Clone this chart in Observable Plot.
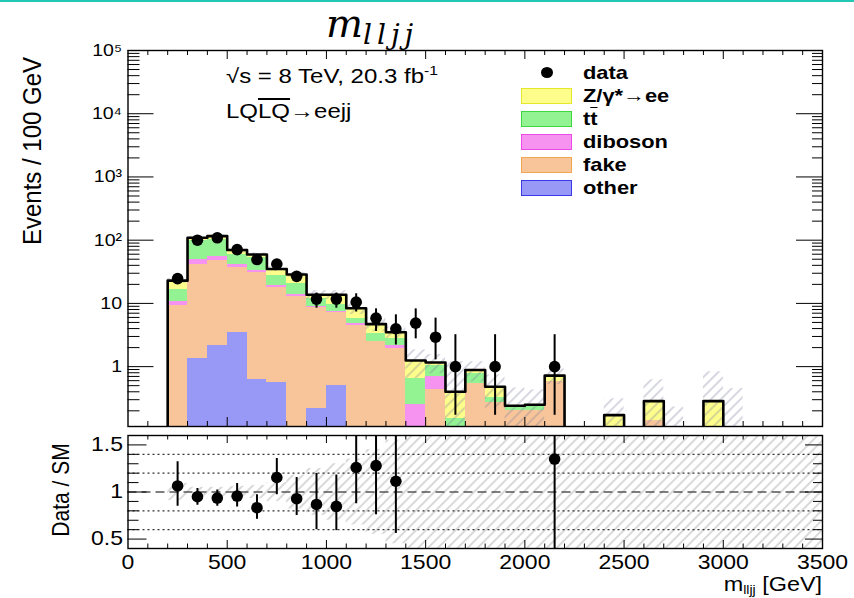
<!DOCTYPE html>
<html><head><meta charset="utf-8">
<script src="https://cdn.jsdelivr.net/npm/d3@7"></script>
<script src="https://cdn.jsdelivr.net/npm/@observablehq/plot@0.6"></script>
<style>
html,body{margin:0;padding:0;background:#fff;}
#wrap{position:relative;width:854px;height:598px;overflow:hidden;background:#fff;font-family:"Liberation Sans",Arial,Helvetica,sans-serif;color:#000;}
.abs{position:absolute;white-space:nowrap;line-height:1;}
#wrap svg{position:absolute;left:0;}
</style></head>
<body><div id="wrap"></div>
<script>
// ---------------- data ----------------
const binLow = [200,300,400,500,600,700,800,900,1000,1100,1200,1300,1400,1500,1600,1700,1800,1900,2000,2100,2200,2300,2400,2500,2600,2700,2800,2900,3000,3100,3200,3300,3400];
const binWidth = 100;
// stacked MC components (events / 100 GeV)
const other   = [0,1.35,2.15,3.5,0.63,0.56,0,0.22,0.51,0,0,0,0,0,0,0,0,0,0,0,0,0,0,0,0,0,0,0,0,0,0,0,0];
const fake    = [9.2,40.6,46,33.5,29.7,17.2,12.9,8.4,6.8,4.5,2.5,1.91,0,0.44,0,0.54,0.27,0.2,0.2,0.58,0,0,0,0,0.14,0,0,0,0,0,0,0,0];
const diboson = [1.5,7.4,7.5,4,2.7,1.3,1.1,0.36,0.2,0.37,0,0.24,0.25,0.25,0,0,0,0,0,0,0,0,0,0,0,0,0,0,0,0,0,0,0];
const ttbar   = [5.8,49.6,46.3,19,20.7,8.4,7,3.1,2.2,0.98,0.88,0.65,0.4,0.37,0.151,0.24,0.06,0.04,0.05,0,0,0,0,0,0,0,0,0,0,0,0,0,0];
const zee     = [6.4,10,14,10,5.6,7.5,7.6,1.6,4.0,2.55,1.32,0.7,0.6,0.1,0.25,0.105,0.15,0,0,0.14,0,0,0.171,0,0.145,0,0,0.285,0,0,0,0,0];
// MC uncertainty band (main panel, absolute edges)
const mcUp    = [25,115,122,74,63,38,31,15.9,15.9,10.1,5.85,4.2,1.84,1.55,1.2,1.2,0.74,0.46,0.43,0.92,0,0,0.31,0,0.62,0.23,0,0.83,0.45,0,0,0,0];
const mcDown  = [20.8,103,110,63,55.6,32,26.2,11.5,11.5,6.7,3.55,2.8,0.65,0.77,0.05,0.57,0.22,0.02,0.07,0.52,0,0,0.03,0,0.01,0.01,0,0.01,0.01,0,0,0,0];
// relative MC uncertainty (ratio panel)
const ratioBand = [0.09,0.05,0.05,0.06,0.07,0.1,0.18,0.25,0.3,0.35,0.45,0.55,0.62,1,1,1,1,1,1,1,1,1,1,1,1,1,1,1,1,1,1,1,1];
// data
const dataMass   = [250,350,450,550,650,750,850,950,1050,1150,1250,1350,1450,1550,1650,1850,2150];
const dataEvents = [24.7,100,109,71,49.4,42,26.8,11.7,11.7,10.5,5.85,3.97,4.87,2.92,1,1,1];
const dataLow    = [20.2,90,99,63,42.5,35.5,21.6,8.4,8.4,7.3,3.6,2.2,2.75,1.28,0.17,0.17,0.17];
const dataHigh   = [29.8,110,119,79,56.5,48.5,32,14.6,14.6,14.2,8.2,6.6,8.2,5.85,3.2,3.2,3.2];
// data / SM
const ratioMass  = [250,350,450,550,650,750,850,950,1050,1150,1250,1350,2150];
const ratioValue = [1.064,0.95,0.936,0.957,0.833,1.154,0.929,0.868,0.847,1.26,1.28,1.114,1.35];
const ratioLow   = [0.85,0.858,0.85,0.84,0.71,0.97,0.75,0.6,0.59,0.876,0.758,0.56,0.2];
const ratioHigh  = [1.32,1.036,1.02,1.09,0.97,1.357,1.154,1.197,1.18,1.9,1.9,1.9,2.5];
// axis ticks and labels
const xTicks = [0,500,1000,1500,2000,2500,3000,3500];
const yMainTicks = [1,10,100,1000,10000,100000];
const yMainLabels = ["1","10","10\u00B2","10\u00B3","10\u2074","10\u2075"];
const yRatioTicks = [0.5,1,1.5];
const yRatioLabels = ["0.5","1","1.5"];
const seriesNames = ["other","fake","diboson","tt\u0304","Z/\u03B3*\u2192ee"];
const seriesColors = ["#9898f6","#f8c59a","#f693f0","#93f393","#fdfd8c"];
const seriesBorders = ["#3a3ae8","#f2a552","#ec4ae6","#3fd63f","#e6e62a"];

// ---------------- layout ----------------
const W = 854, ML = 127.5, MR = 32;
const frameW = W - ML - MR;
const YMIN = 0.113, YMAX = 1e5;
const mainH = 430, mainMT = 50, mainMB = 4, mainFH = mainH - mainMT - mainMB;
const ratH = 168, ratMT = 5, ratMB = 50, ratFH = ratH - ratMT - ratMB;
const FONT = "'Liberation Sans', Arial, Helvetica, sans-serif";

// ---------------- derived tables ----------------
const comps = [other, fake, diboson, ttbar, zee];
const total = binLow.map((_, i) => comps.reduce((s, c) => s + c[i], 0));
const stackRows = [];
binLow.forEach((lo, i) => {
  let cum = 0;
  comps.forEach((c, k) => {
    cum += c[i];
    if (c[i] > 0) stackRows.push({lo, hi: lo + binWidth, top: cum, layer: k, color: seriesColors[k]});
  });
});
stackRows.sort((a, b) => b.layer - a.layer);
const bandRows = binLow.map((lo, i) => ({lo, hi: lo + binWidth, up: mcUp[i], down: Math.max(mcDown[i], 0.01)})).filter(d => d.up > 0);
const LOW = 0.02;
const outline = [{x: binLow[0], y: LOW}];
binLow.forEach((lo, i) => outline.push({x: lo, y: total[i] > 0 ? total[i] : LOW}));
outline.push({x: binLow[binLow.length - 1] + binWidth, y: LOW});
const dataRows = dataMass.map((m, i) => ({m, n: dataEvents[i], lo: dataLow[i], hi: dataHigh[i]}));
const ratioRows = ratioMass.map((m, i) => ({m, r: ratioValue[i], lo: ratioLow[i], hi: ratioHigh[i]}));
const ratioBandRows = binLow.map((lo, i) => ({lo, hi: lo + binWidth, y1: 1 - ratioBand[i], y2: 1 + ratioBand[i]}));

const xMinor = d3.range(100, 3500, 100).filter(d => d % 500 !== 0);
const xMajorIn = [500,1000,1500,2000,2500,3000];
const yMinorMain = [];
for (let e = -1; e <= 4; e++) for (let m = 2; m <= 9; m++) { const v = m * Math.pow(10, e); if (v > YMIN && v < YMAX) yMinorMain.push(v); }
const yMinorRatio = [0.6,0.7,0.8,0.9,1.1,1.2,1.3,1.4];

function ticksY(values, lenL, lenR) {
  return [
    Plot.tickY(values, {y: d => d, insetRight: frameW - lenL, stroke: "black", strokeWidth: 1}),
    Plot.tickY(values, {y: d => d, insetLeft: frameW - lenR, stroke: "black", strokeWidth: 1})
  ];
}
function ticksX(values, len, fh) {
  return [
    Plot.tickX(values, {x: d => d, insetBottom: fh - len, stroke: "black", strokeWidth: 1}),
    Plot.tickX(values, {x: d => d, insetTop: fh - len, stroke: "black", strokeWidth: 1})
  ];
}
function addHatch(svg, id, color, op) {
  const defs = d3.select(svg).insert("defs", ":first-child");
  const p = defs.append("pattern").attr("id", id).attr("patternUnits", "userSpaceOnUse")
    .attr("width", 7).attr("height", 7).attr("patternTransform", "rotate(45)");
  p.append("line").attr("x1", 1).attr("y1", 0).attr("x2", 1).attr("y2", 7)
    .attr("stroke", color).attr("stroke-width", 1.1).attr("stroke-opacity", op);
}
function stretch(svg, s) {
  svg.querySelectorAll("text").forEach(t => {
    const tr = t.getAttribute("transform");
    if (tr) t.setAttribute("transform", tr + ` scale(${s},1)`);
  });
}

// ---------------- main panel ----------------
const main = Plot.plot({
  width: W, height: mainH,
  marginLeft: ML, marginRight: MR, marginTop: mainMT, marginBottom: mainMB,
  x: {domain: [0, 3500], axis: null},
  y: {type: "log", domain: [YMIN, YMAX]},
  color: {type: "identity"},
  style: {fontFamily: FONT, background: "transparent", color: "black", overflow: "visible"},
  marks: [
    Plot.rect(stackRows, {x1: "lo", x2: "hi", y1: () => YMIN, y2: "top", fill: "color", clip: true, shapeRendering: "crispEdges"}),
    Plot.rect(bandRows, {x1: "lo", x2: "hi", y1: "down", y2: "up", fill: "url(#hatchMain)", clip: true}),
    Plot.line(outline, {x: "x", y: "y", curve: "step-after", stroke: "black", strokeWidth: 2.6, clip: true}),
    Plot.ruleX(dataRows, {x: "m", y1: "lo", y2: "hi", stroke: "black", strokeWidth: 2, clip: true}),
    Plot.dot(dataRows, {x: "m", y: "n", r: 5.8, fill: "black", stroke: null}),
    ...ticksY(yMainTicks, 26, 26),
    ...ticksY(yMinorMain, 12, 10),
    ...ticksX(xMajorIn, 9, mainFH),
    ...ticksX(xMinor, 5, mainFH),
    Plot.axisY(yMainTicks, {anchor: "left", tickSize: 0, tickPadding: 6, fontSize: 17, tickFormat: d => yMainLabels[yMainTicks.indexOf(d)]}),
    Plot.frame({stroke: "black", strokeWidth: 1.4})
  ]
});
addHatch(main, "hatchMain", "#7a7a9a", 0.55);
stretch(main, 1.15);
main.style.top = "0px";

// ---------------- ratio panel ----------------
const ratio = Plot.plot({
  width: W, height: ratH,
  marginLeft: ML, marginRight: MR, marginTop: ratMT, marginBottom: ratMB,
  x: {domain: [0, 3500]},
  y: {domain: [0.4, 1.6]},
  style: {fontFamily: FONT, background: "transparent", color: "black", overflow: "visible"},
  marks: [
    Plot.rect(ratioBandRows, {x1: "lo", x2: "hi", y1: "y1", y2: "y2", fill: "url(#hatchRatio)", clip: true}),
    Plot.ruleY([0.6, 0.8, 1.2, 1.4], {stroke: "#333", strokeWidth: 1.2, strokeDasharray: "2,3"}),
    Plot.ruleY([1], {stroke: "#555", strokeWidth: 1.6, strokeDasharray: "9,5"}),
    Plot.ruleX(ratioRows, {x: "m", y1: "lo", y2: "hi", stroke: "black", strokeWidth: 2, clip: true}),
    Plot.dot(ratioRows, {x: "m", y: "r", r: 5.8, fill: "black", stroke: null, clip: true}),
    ...ticksY(yRatioTicks, 19, 17),
    ...ticksY(yMinorRatio, 11, 9),
    ...ticksX(xMajorIn, 8, ratFH),
    ...ticksX(xMinor, 4.5, ratFH),
    Plot.axisY(yRatioTicks, {anchor: "left", tickSize: 0, tickPadding: 5, fontSize: 20, tickFormat: d => yRatioLabels[yRatioTicks.indexOf(d)]}),
    Plot.axisX(xTicks, {anchor: "bottom", tickSize: 0, tickPadding: 6, fontSize: 20, tickFormat: d => String(d)}),
    Plot.frame({stroke: "black", strokeWidth: 1.4})
  ]
});
addHatch(ratio, "hatchRatio", "#8a8a8a", 0.6);
stretch(ratio, 1.15);
ratio.style.top = (mainH) + "px";

const wrap = document.getElementById("wrap");
wrap.appendChild(main);
wrap.appendChild(ratio);

// ---------------- texts, legend ----------------
function addDiv(html, css) {
  const d = document.createElement("div");
  d.className = "abs";
  d.innerHTML = html;
  Object.assign(d.style, css);
  wrap.appendChild(d);
  return d;
}
// slide border line
addDiv("", {left: "0px", top: "0px", width: "854px", height: "2px", background: "#22c7b5"});
// title
addDiv('m<span style="font-size:28px;letter-spacing:5px;position:relative;top:7px;">lljj</span>',
  {left: "326px", top: "1px", fontFamily: "'DejaVu Serif','Liberation Serif',serif", fontStyle: "italic", fontSize: "39px", lineHeight: "normal"});
// axis titles
addDiv("Events / 100 GeV", {left: "33px", top: "151px", fontSize: "24px", transform: "translate(-50%,-50%) rotate(-90deg) scaleY(1.05)"});
addDiv("Data / SM", {left: "60px", top: "490px", fontSize: "21px", transform: "translate(-50%,-50%) rotate(-90deg) scaleY(1.15)"});
addDiv('m<span style="font-size:12px;position:relative;top:3px;">lljj</span> [GeV]',
  {right: "32px", top: "574px", fontSize: "20px", transform: "scaleX(1.17)", transformOrigin: "100% 0"});
// annotations
addDiv('\u221As = 8 TeV, 20.3 fb<span style="font-size:13px;position:relative;top:-8px;">-1</span>',
  {left: "226px", top: "66px", fontSize: "20px", transform: "scaleX(1.2)", transformOrigin: "0 0"});
addDiv('LQ<span style="text-decoration:overline;">LQ</span>\u2192eejj',
  {left: "226px", top: "101px", fontSize: "20px", transform: "scaleX(1.2)", transformOrigin: "0 0"});
// legend
addDiv("", {left: "541px", top: "67px", width: "12px", height: "11px", borderRadius: "50%", background: "#000"});
addDiv("data", {left: "583px", top: "63px", fontSize: "19px", fontWeight: "bold", transform: "scaleX(1.15)", transformOrigin: "0 0"});
const legendOrder = [4, 3, 2, 1, 0];
const legendNames = ['Z/\u03B3*\u2192ee', 't<span style="text-decoration:overline;">t</span>', 'diboson', 'fake', 'other'];
legendOrder.forEach((k, j) => {
  const top = 88 + j * 23;
  addDiv("", {left: "521px", top: top + "px", width: "49px", height: "14px", background: seriesColors[k], border: "1.5px solid " + seriesBorders[k]});
  addDiv(legendNames[j], {left: "583px", top: (top - 2) + "px", fontSize: "19px", fontWeight: "bold", transform: "scaleX(1.15)", transformOrigin: "0 0"});
});
</script></body></html>
